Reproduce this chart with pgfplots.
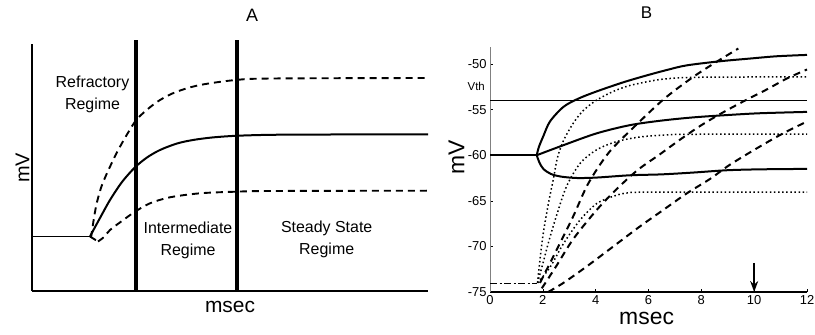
\documentclass[border=0pt]{standalone}
\usepackage{pgfplots}
\pgfplotsset{compat=1.18}
\usepackage{fontspec}
\setmainfont{Liberation Sans}
\usetikzlibrary{arrows.meta}
\begin{document}
\begin{tikzpicture}
\useasboundingbox (0,0) rectangle (815bp,335bp);
% ---------------- Panel A ----------------
\begin{axis}[
  at={(32bp,44bp)}, anchor=south west,
  scale only axis, width=396bp, height=247bp,
  xmin=0, xmax=396, ymin=0, ymax=247,
  axis x line*=bottom, axis y line*=left,
  axis line style={line width=1.3bp},
  xtick=\empty, ytick=\empty,
  clip=false,
  xlabel={msec}, ylabel={mV}, title={A},
  xlabel style={at={(axis description cs:0.5,-0.064)}, anchor=center, inner sep=0, font=\fontsize{21}{24}\selectfont},
  ylabel style={at={(axis description cs:-0.024,0.498)}, anchor=center, inner sep=0, font=\fontsize{20}{24}\selectfont},
  title style={at={(axis description cs:0.556,1.09)}, anchor=center, inner sep=0, font=\fontsize{18}{22}\selectfont},
]
% regime boundaries
\addplot[line width=3.2bp] coordinates {(104,0) (104,251)};
\addplot[line width=3.2bp] coordinates {(205,0) (205,251)};
% baseline
\addplot[line width=1.5bp] coordinates {(0,54.5) (58,54.5)};
% solid mean trajectory
\addplot[line width=2bp, smooth] coordinates {
 (58,54.5) (62,62) (68,73) (78,91) (90,109) (103,123.7) (115,133.5) (128,141)
 (145,147.5) (161,151) (180,153.5) (204,155.2) (240,156.2) (300,156.5) (396,156.5)};
% upper dashed
\addplot[line width=1.9bp, dash pattern=on 7bp off 5bp, smooth] coordinates {
 (59,53) (61.5,70) (64.7,87.7) (70,106) (78,124.3) (88,144.3) (103,169.3) (114.7,181)
 (128,191) (144.7,199.3) (168,206) (203.7,211) (240,212.5) (396,213)};
% lower dashed
\addplot[line width=1.9bp, dash pattern=on 7bp off 5bp] coordinates {(58,54.5) (66,49.5)};
\addplot[line width=1.9bp, dash pattern=on 7bp off 5bp, smooth] coordinates {
 (66,49.5) (72,54) (78,61) (91.3,71) (103,79.3) (118,87.7) (138,93.7) (168,97.7)
 (203.7,99.3) (240,100) (396,100.3)};
% regime labels
\node[anchor=north, align=center, inner sep=0, font=\fontsize{16}{22}\selectfont] at (axis cs:60.5,215) {Refractory\\Regime};
\node[anchor=north, align=center, inner sep=0, font=\fontsize{16}{22}\selectfont] at (axis cs:156,69) {Intermediate\\Regime};
\node[anchor=north, align=center, inner sep=0, font=\fontsize{16}{22}\selectfont] at (axis cs:294.7,70) {Steady State\\Regime};
\end{axis}
% ---------------- Panel B ----------------
\begin{axis}[
  at={(490bp,43bp)}, anchor=south west,
  scale only axis, width=317bp, height=245.3bp,
  xmin=0, xmax=12, ymin=-75, ymax=-48.1,
  axis x line*=bottom, axis y line*=left,
  x axis line style={line width=1.6bp},
  y axis line style={black!50, line width=1bp},
  xtick={0,2,4,6,8,10,12}, ytick={-75,-70,-65,-60,-55,-50},
  tick align=inside, major tick length=3bp,
  tick style={black, line width=0.6bp},
  /pgf/number format/assume math mode=true,
  ticklabel style={font=\fontsize{13}{15}\selectfont},
  clip=false,
  xlabel={msec}, ylabel={mV}, title={B},
  xlabel style={at={(axis description cs:0.494,-0.107)}, anchor=center, inner sep=0, font=\fontsize{23}{26}\selectfont},
  ylabel style={at={(axis description cs:-0.106,0.548)}, anchor=center, inner sep=0, font=\fontsize{23}{26}\selectfont},
  title style={at={(axis description cs:0.494,1.113)}, anchor=center, inner sep=0, font=\fontsize{17}{20}\selectfont},
]
% threshold
\addplot[line width=1.1bp] coordinates {(0,-54) (12,-54)};
% resting baselines
\addplot[line width=2.4bp] coordinates {(0,-60) (1.77,-60)};
\addplot[line width=1.3bp, dash pattern=on 7bp off 2.5bp on 2bp off 2.5bp] coordinates {(0,-74.1) (1.77,-74.1)};
% solid curves
\addplot[line width=2bp, smooth] coordinates {
 (1.77,-60) (1.85,-59.1) (2.02,-57.9) (2.27,-56.3) (2.78,-54.7) (3.34,-53.8) (4.04,-53.0)
 (5.05,-52.0) (5.93,-51.25) (6.7,-50.65) (7.44,-50.15) (8.7,-49.7) (9.84,-49.4) (10.85,-49.15) (12,-49.0)};
\addplot[line width=2bp, smooth] coordinates {
 (1.77,-60) (2.78,-58.9) (4.04,-57.6) (5.3,-56.7) (6.5,-56.2) (7.7,-55.85) (8.96,-55.6) (10.2,-55.4) (12,-55.25)};
\addplot[line width=2bp, smooth] coordinates {
 (1.77,-60) (1.87,-60.8) (2.02,-61.5) (2.3,-62.05) (2.7,-62.35) (3.3,-62.5) (4.04,-62.45)
 (5.3,-62.2) (6.5,-62.1) (7.7,-61.9) (8.96,-61.65) (10.2,-61.55) (12,-61.5)};
% dotted curves
\addplot[line width=1.5bp, dash pattern=on 1.5bp off 2.6bp, smooth] coordinates {
 (1.8,-74) (1.89,-71.5) (2.02,-68.5) (2.21,-65.3) (2.4,-62.6) (2.55,-60.3) (2.78,-58.4) (3.15,-56.5)
 (3.53,-55.1) (4.04,-53.95) (4.67,-53.0) (5.3,-52.35) (6.31,-51.75) (7.0,-51.55) (8,-51.45) (12,-51.4)};
\addplot[line width=1.5bp, dash pattern=on 1.5bp off 2.6bp, smooth] coordinates {
 (1.8,-74) (2.0,-71.9) (2.21,-69.6) (2.52,-66.6) (2.9,-63.4) (3.41,-60.9) (4.04,-59.4)
 (4.8,-58.5) (5.68,-58.0) (6.81,-57.75) (8,-57.7) (12,-57.7)};
\addplot[line width=1.5bp, dash pattern=on 1.5bp off 2.6bp, smooth] coordinates {
 (1.8,-74) (2.27,-72.3) (2.78,-69.7) (3.41,-67.1) (4.04,-65.3) (4.67,-64.5) (5.17,-64.15) (6,-64.05) (12,-64.05)};
% dashed curves
\addplot[line width=2bp, dash pattern=on 7bp off 5bp, smooth] coordinates {
 (1.89,-74) (2.52,-70.4) (3.15,-66.7) (3.72,-63.1) (4.5,-59.7) (5.49,-56.8) (6.6,-53.8)
 (7.7,-51.4) (8.58,-49.75) (9.4,-48.3)};
\addplot[line width=2bp, dash pattern=on 7bp off 5bp, smooth] coordinates {
 (1.96,-74.6) (2.5,-72.2) (3.15,-69.2) (4.04,-66.0) (4.8,-63.7) (5.6,-61.6) (6.43,-59.9)
 (7.19,-58.3) (7.95,-56.8) (8.7,-55.5) (9.59,-54.1) (10.47,-52.8) (11.23,-51.6) (12,-50.6)};
\addplot[line width=2bp, dash pattern=on 7bp off 5bp, smooth] coordinates {
 (2.2,-75) (2.78,-74.0) (3.66,-72.2) (4.67,-70.0) (5.68,-67.8) (6.56,-66.0) (7.44,-64.2)
 (8.33,-62.6) (9.0,-61.2) (9.72,-59.9) (10.6,-58.4) (11.23,-57.4) (12,-56.3)};
% arrow at 10 msec
\addplot[line width=1.5bp, -{Stealth[length=11bp,width=8bp]}] coordinates {(10,-71.8) (10,-75)};
% Vth label
\node[anchor=east, inner sep=0, xshift=-5bp, font=\fontsize{11.5}{13}\selectfont] at (axis cs:0,-52.45) {Vth};
\end{axis}
\end{tikzpicture}
\end{document}
